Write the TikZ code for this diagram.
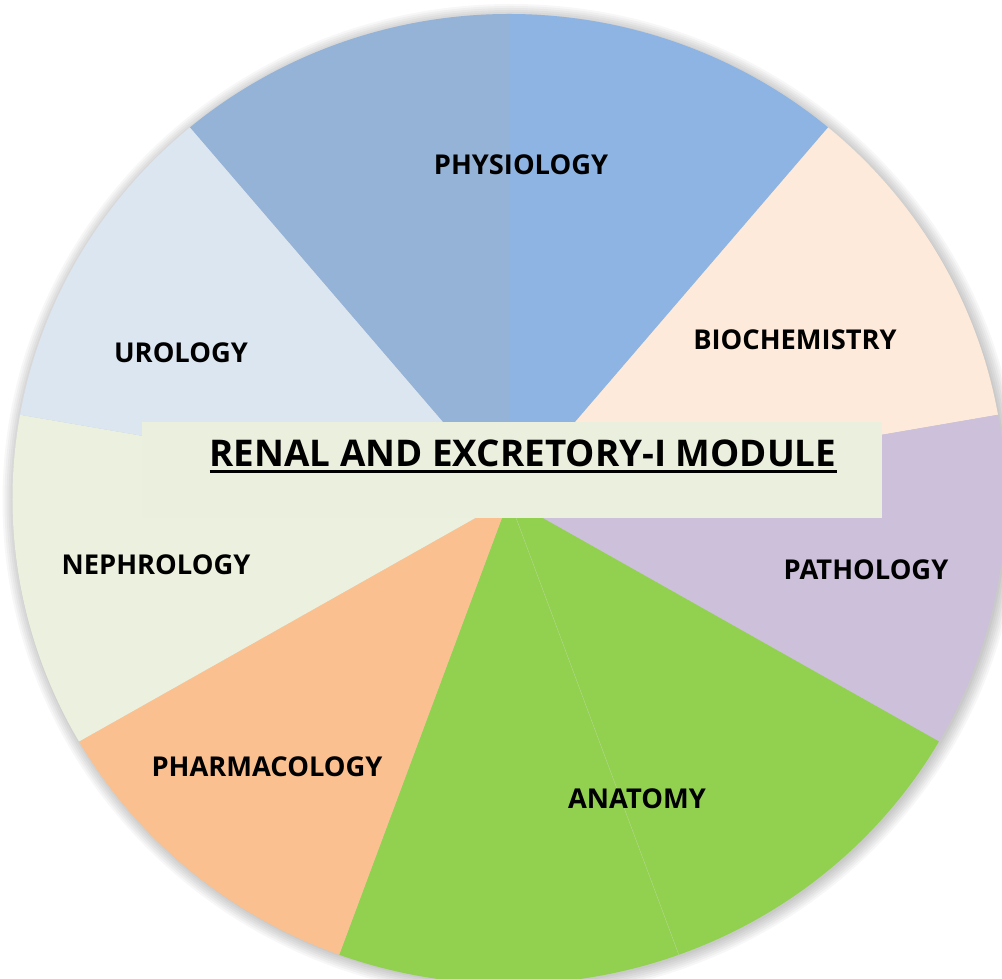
\documentclass[tikz,border=0pt]{standalone}
\usepackage{fontspec}
\setmainfont{Open Sans}
\definecolor{physA}{HTML}{95B3D7}
\definecolor{physB}{HTML}{8DB4E2}
\definecolor{biochem}{HTML}{FDEADA}
\definecolor{patho}{HTML}{CCC0DA}
\definecolor{anat}{HTML}{92D050}
\definecolor{pharma}{HTML}{FAC090}
\definecolor{nephro}{HTML}{EBF1DE}
\definecolor{uro}{HTML}{DCE6F1}
\definecolor{banner}{HTML}{EBEFDE}
\tikzset{
  lbl/.style={font=\fontsize{27.3}{32}\selectfont\bfseries, text=black, inner sep=0pt, anchor=center},
  ttl/.style={font=\fontsize{36.8}{44}\selectfont\bfseries, text=black, inner sep=0pt, anchor=base},
}
\newcommand{\sector}[3]{\fill[#3] (O) -- (#1:496.5 and 485) arc[start angle=#1, end angle=#2, x radius=496.5, y radius=485] -- cycle;}
\begin{document}
\begin{tikzpicture}[x=1pt,y=1pt]
\useasboundingbox (0,0) rectangle (1002,979);
\fill[white] (0,0) rectangle (1002,979);
\coordinate (O) at (509,480);
% soft shadow
\foreach \k in {12,10,...,0}{
  \fill[black,opacity=0.03] ([shift={(2,-2)}]O) ellipse[x radius={496.5+\k}, y radius={485+\k}];
}
\begin{scope}[shift={(O)}]
\coordinate (O) at (0,0);
\sector{90}{130}{physA}
\sector{50}{90}{physB}
\sector{10}{50}{biochem}
\sector{-30}{10}{patho}
\sector{-70}{-30}{anat}
\sector{-110}{-70}{anat}
\sector{-150}{-110}{pharma}
\sector{170}{210}{nephro}
\sector{130}{170}{uro}
\draw[white,opacity=0.2,line width=0.5pt] (O) -- (-70:496.5 and 485);
\end{scope}
\fill[banner] (142,{979-518}) rectangle (882,{979-422});
\node[ttl] (title) at (523,{979-467}) {RENAL AND EXCRETORY-I MODULE};
\draw[line width=3pt] ([yshift=-5pt]title.base west) -- ([yshift=-5pt]title.base east);
\node[lbl] (phys) at (521,{979-165}) {PHYSIOLOGY};
\node[lbl] (bio) at (795,{979-340}) {BIOCHEMISTRY};
\node[lbl] (uro) at (181,{979-353}) {UROLOGY};
\node[lbl] (neph) at (156,{979-565}) {NEPHROLOGY};
\node[lbl] (path) at (866,{979-570}) {PATHOLOGY};
\node[lbl] (phar) at (267,{979-767}) {PHARMACOLOGY};
\node[lbl] (anat) at (637,{979-799}) {ANATOMY};
\end{tikzpicture}
\end{document}
